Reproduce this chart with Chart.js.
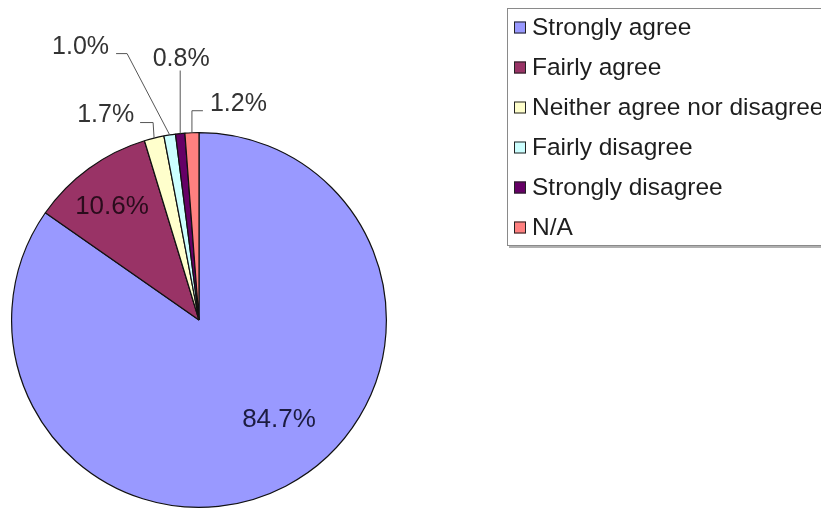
<!DOCTYPE html>
<html>
<head>
<meta charset="utf-8">
<script src="https://cdn.jsdelivr.net/npm/chart.js@4.4.1/dist/chart.umd.min.js"></script>
<style>
  html, body { margin: 0; padding: 0; background: #fff; }
  #wrap { width: 821px; height: 509px; position: relative; }
</style>
</head>
<body>
<div id="wrap"><canvas id="myChart" width="821" height="509"></canvas></div>
<script>
// data (percent of answers)
var categories = ['Strongly agree', 'Fairly agree', 'Neither agree nor disagree', 'Fairly disagree', 'Strongly disagree', 'N/A'];
var values = [84.7, 10.6, 1.7, 1.0, 0.8, 1.2];
var colours = ['#9999ff', '#993366', '#ffffcc', '#ccffff', '#660066', '#ff8080'];

// where each percent label sits (inside: offset from pie centre, outside: leader from slice edge)
var labelLayout = [
  { inside: true, dx: 80, dy: 100, color: '#1c1c40' },
  { inside: true, dx: -87, dy: -113, color: '#2a0c1c' },
  { pts: [[-1, -15.5], [-14, -15.5]], align: 'right', tx: -6, ty: -1 },
  { pts: [[-42.6, -81.3], [-53.6, -81.3]], align: 'right', tx: -7, ty: 0 },
  { pts: [[0, -63]], align: 'center', tx: 1, ty: -5 },
  { pts: [[0, -22], [11, -22]], align: 'left', tx: 7, ty: 0 }
];

var pieLabels = {
  id: 'pieLabels',
  afterDatasetsDraw: function(chart) {
    var ctx = chart.ctx;
    var meta = chart.getDatasetMeta(0);
    ctx.save();
    meta.data.forEach(function(arc, i) {
      var lay = labelLayout[i];
      var txt = values[i].toFixed(1) + '%';
      if (lay.inside) {
        ctx.font = '26px "Liberation Sans", Arial, sans-serif';
        ctx.fillStyle = lay.color;
        ctx.textAlign = 'center';
        ctx.textBaseline = 'middle';
        ctx.fillText(txt, arc.x + lay.dx, arc.y + lay.dy);
        return;
      }
      var mid = (arc.startAngle + arc.endAngle) / 2;
      var ex = arc.x + Math.cos(mid) * arc.outerRadius;
      var ey = arc.y + Math.sin(mid) * arc.outerRadius;
      ctx.strokeStyle = '#555';
      ctx.lineWidth = 1;
      ctx.beginPath();
      ctx.moveTo(ex, ey);
      var last = [ex, ey];
      lay.pts.forEach(function(p) {
        last = [ex + p[0], ey + p[1]];
        ctx.lineTo(last[0], last[1]);
      });
      ctx.stroke();
      ctx.font = '25px "Liberation Sans", Arial, sans-serif';
      ctx.fillStyle = '#333';
      ctx.textAlign = lay.align;
      ctx.textBaseline = 'alphabetic';
      ctx.fillText(txt, last[0] + lay.tx, last[1] + lay.ty);
    });
    ctx.restore();
  }
};

var boxLegend = {
  id: 'boxLegend',
  afterDraw: function(chart) {
    var ctx = chart.ctx;
    ctx.save();
    // shadow + frame
    ctx.fillStyle = '#b0b0b0';
    ctx.fillRect(509, 245, 330, 3);
    ctx.fillStyle = '#fff';
    ctx.fillRect(507, 8, 330, 237);
    ctx.strokeStyle = '#8a8a8a';
    ctx.lineWidth = 1;
    ctx.strokeRect(507.5, 8.5, 330, 237);
    ctx.font = '24.5px "Liberation Sans", Arial, sans-serif';
    ctx.textBaseline = 'middle';
    ctx.textAlign = 'left';
    chart.data.labels.forEach(function(lab, i) {
      var cy = 27.5 + i * 40;
      ctx.fillStyle = chart.data.datasets[0].backgroundColor[i];
      ctx.fillRect(514, cy - 6, 12, 12);
      ctx.strokeStyle = '#222';
      ctx.strokeRect(514.5, cy - 5.5, 11, 11);
      ctx.fillStyle = '#1e1e1e';
      ctx.fillText(lab, 532, cy + 1);
    });
    ctx.restore();
  }
};

var graph = new Chart(document.getElementById('myChart'), {
  type: 'pie',
  data: {
    labels: categories,
    datasets: [{
      data: values,
      backgroundColor: colours,
      borderColor: '#111',
      borderWidth: 1.2
    }]
  },
  options: {
    responsive: false,
    animation: false,
    layout: { padding: { left: 11, right: 434, top: 132, bottom: 1 } },
    plugins: {
      legend: { display: false },
      tooltip: { enabled: false }
    }
  },
  plugins: [pieLabels, boxLegend]
});
</script>
</body>
</html>
